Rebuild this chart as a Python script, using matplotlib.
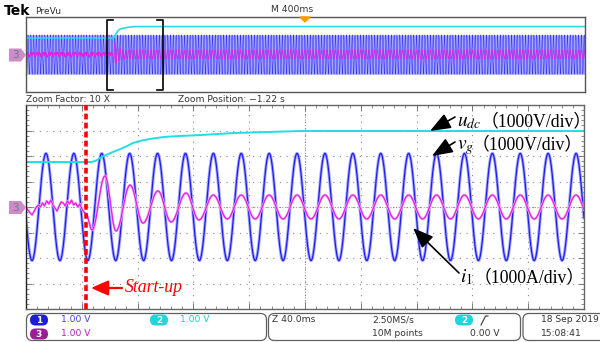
import numpy as np
import matplotlib.pyplot as plt
from matplotlib.patches import FancyBboxPatch, Polygon

plt.rcParams['mathtext.fontset'] = 'stix'

# ---- data (time in ms, amplitude in divisions) ----
startup_t = 43.0          # start-up instant, ms from left edge of zoom window
blue_amp = 2.1            # vg amplitude, div
blue_period = 20.0        # ms (50 Hz)
blue_peak_t = 14.3        # first peak, ms

cyan_t = [0, 43.0, 47.3, 50.9, 53.0, 57.3, 62.4, 67.4, 72.4, 76.7, 81.7, 88.9,
          99.6, 108.2, 124.7, 148.4, 172.8, 196.4, 400]
cyan_v = [1.765, 1.765, 1.765, 1.84, 1.92, 2.04, 2.16, 2.27, 2.39, 2.51, 2.59, 2.67,
          2.75, 2.78, 2.82, 2.90, 2.94, 2.98, 2.98]

# magenta before start-up (noise), evenly spaced over 0..startup_t
mag_pre_v = [-0.04, -0.12, -0.24, -0.31, -0.16, 0, 0.08, 0, 0.16, 0.04, 0.24, 0.12,
             0.27, 0.08, -0.04, -0.16, 0.04, 0.2, 0.16, 0.04, 0.24, 0.12, 0.27, 0.08,
             0.16, 0, 0.12, -0.08, -0.2, -0.27]
# magenta transient extrema after start-up
mag_ext_t = [43.0, 47.3, 56.6, 64.5, 74.6, 83.9, 94.6, 104.0, 114.7, 124.0, 134.3]
mag_ext_v = [-0.27, -0.9, 1.22, -0.94, 0.86, -0.63, 0.63, -0.59, 0.55, -0.51, 0.47]
mag_steady_amp = 0.47

zoom_span = 400.0         # ms shown in zoom window
ov_t0, ov_t1 = -580.0, 3420.0   # overview time range


def blue_wave(t):
    return blue_amp * np.cos(2 * np.pi * (t - blue_peak_t) / blue_period)


def magenta_wave(t):
    out = mag_steady_amp * np.cos(2 * np.pi * (t - blue_peak_t) / blue_period)
    pre_t = np.linspace(0, startup_t, len(mag_pre_v))
    pre = t < startup_t
    out[pre] = np.interp(np.mod(t[pre], startup_t), pre_t, mag_pre_v)
    ts, vs = np.array(mag_ext_t), np.array(mag_ext_v)
    mid = (t >= ts[0]) & (t < ts[-1])
    idx = np.clip(np.searchsorted(ts, t[mid]) - 1, 0, len(ts) - 2)
    s = (t[mid] - ts[idx]) / (ts[idx + 1] - ts[idx])
    out[mid] = vs[idx] + (vs[idx + 1] - vs[idx]) * (1 - np.cos(np.pi * s)) / 2
    return out


c_blue, c_blue_l = '#1e1ef0', '#a6a6ff'
c_cyan = '#22dde6'
c_mag, c_mag_l = '#e21ee2', '#f6b4f6'

fig = plt.figure(figsize=(6, 3.42), dpi=100)
fig.patch.set_facecolor('white')

# ---- overview (PreVu) panel ----
ax0 = fig.add_axes([26 / 600, 1 - 92 / 342, 559 / 600, 75 / 342])
t_ov = np.arange(ov_t0, ov_t1, 0.05)
ax0.fill_between(t_ov, -blue_amp, blue_amp, color=c_blue_l, lw=0)
ax0.plot(t_ov, blue_wave(t_ov), color=c_blue, lw=0.3)
ax0.plot(t_ov, magenta_wave(t_ov), color=c_mag, lw=0.5)
ax0.plot(np.r_[ov_t0, cyan_t, ov_t1], np.r_[cyan_v[0], cyan_v, cyan_v[-1]],
         color=c_cyan, lw=1.2)
# zoom window brackets
for x0, d in [(0, 1), (zoom_span, -1)]:
    ax0.plot([x0 + d * 45, x0, x0, x0 + d * 45], [3.7, 3.7, -3.75, -3.75],
             color='black', lw=1.2)
ax0.set_xlim(ov_t0, ov_t1)
ax0.set_ylim(-4, 4)
ax0.set_xticks([])
ax0.set_yticks([])
for sp in ax0.spines.values():
    sp.set_color('#555555')
    sp.set_linewidth(1)

# ---- main (zoomed) panel ----
ax = fig.add_axes([26 / 600, 1 - 309 / 342, 558 / 600, 204 / 342])
t = np.arange(0, zoom_span, 0.05)
ax.plot(t, blue_wave(t), color=c_blue_l, lw=2.2)
ax.plot(t, blue_wave(t), color=c_blue, lw=0.9)
ax.plot(t, magenta_wave(t), color=c_mag_l, lw=1.8)
ax.plot(t, magenta_wave(t), color=c_mag, lw=0.9)
ax.plot(cyan_t, cyan_v, color=c_cyan, lw=1.4)
ax.axvline(startup_t, color='red', lw=2.6, dashes=(1.6, 0.9), zorder=6)

ax.set_xlim(0, zoom_span)
ax.set_ylim(-4, 4)
ax.set_xticks(np.arange(0, zoom_span + 1, 40))
ax.set_yticks(np.arange(-4, 5, 1))
ax.set_xticks(np.arange(0, zoom_span + 1, 8), minor=True)
ax.set_yticks(np.arange(-4, 4.01, 0.2), minor=True)
ax.tick_params(which='both', direction='in', top=True, right=True,
               labelbottom=False, labelleft=False, color='#777777')
ax.tick_params(which='major', length=4, width=0.7)
ax.tick_params(which='minor', length=2.5, width=0.6)
ax.grid(True, which='major', color='#8a8a8a', lw=0.8, linestyle=(0, (1, 5)))
ax.axhline(0, color='#999999', lw=0.8, linestyle=(0, (1, 1.5)), zorder=0.5)
ax.axvline(zoom_span / 2, color='#999999', lw=0.8, linestyle=(0, (1, 1.5)), zorder=0.5)
for sp in ax.spines.values():
    sp.set_color('#666666')
    sp.set_linewidth(1)
ax.spines['left'].set_color('#222222')

# ---- overlay for scope annotations, in pixel coordinates ----
ov = fig.add_axes([0, 0, 1, 1], zorder=10)
ov.set_xlim(0, 600)
ov.set_ylim(342, 0)
ov.axis('off')

ui = dict(family='DejaVu Sans', fontsize=6.6, color='#333333', va='center')
ov.text(4, 11, 'Tek', fontsize=10, fontweight='bold', color='black', va='center')
ov.text(35, 11, 'PreVu', **ui)
ov.text(271, 10, 'M 400ms', **ui)
ov.add_patch(Polygon([(300, 17), (310, 17), (305, 22)], color='#ff9a00', zorder=5))
ov.text(26, 99, 'Zoom Factor: 10 X', **ui)
ov.text(178, 99, 'Zoom Position: \u22121.22 s', **ui)

# channel 3 markers
for yc in (55, 207.5):
    ov.add_patch(Polygon([(9, yc - 6.5), (21, yc - 6.5), (26, yc), (21, yc + 6.5),
                          (9, yc + 6.5)], fc='#cc8ccc', ec='none'))
    ov.text(15.5, yc + 0.5, '3', fontsize=7.5, color='#777777', ha='center',
            va='center')

# labels with arrows
lab = dict(family=['Liberation Serif', 'Noto Sans CJK SC'], fontsize=12.8,
           color='black', va='baseline')
ov.text(457, 126, '$u_{dc}$', fontsize=14, va='baseline')
ov.text(481, 126, '（1000V/div）', **lab)
ov.text(457, 149, '$v_g$', fontsize=14, va='baseline')
ov.text(472, 149, '（1000V/div）', **lab)
ov.text(460, 282, '$i_1$', fontsize=14, va='baseline')
ov.text(474, 282, '（1000A/div）', **lab)
arw = dict(arrowstyle='-|>,head_length=0.9,head_width=0.35', color='black', lw=1.2,
           mutation_scale=14, shrinkA=0, shrinkB=0)
ov.annotate('', xy=(430, 131), xytext=(455, 117), arrowprops=arw)
ov.annotate('', xy=(432, 156), xytext=(455, 142), arrowprops=arw)
ov.annotate('', xy=(413, 228), xytext=(459, 273), arrowprops=arw)

# start-up marker
ov.annotate('', xy=(91, 288), xytext=(122, 288),
            arrowprops=dict(arrowstyle='-|>,head_length=0.8,head_width=0.35',
                            color='red', lw=1.6, mutation_scale=13,
                            shrinkA=0, shrinkB=0))
ov.text(125, 288, 'Start-up', family='Liberation Serif', style='italic',
        fontsize=12.8, color='red', va='center')

# status bar
for x0, w in [(26.5, 240), (268.5, 252), (523, 90)]:
    ov.add_patch(FancyBboxPatch((x0, 313.5), w, 27, boxstyle='round,pad=0,rounding_size=6',
                                fc='white', ec='#606060', lw=0.9))


def badge(x, y, num, col):
    ov.add_patch(FancyBboxPatch((x - 9, y - 5.5), 18, 11,
                                boxstyle='round,pad=0,rounding_size=5.5',
                                fc=col, ec='none'))
    ov.text(x, y + 0.3, num, fontsize=6.5, fontweight='bold', color='white',
            ha='center', va='center')


st = dict(family='DejaVu Sans', fontsize=6.6, va='center')
badge(39, 320, '1', '#1c1ce0')
ov.text(61, 320, '1.00 V', color='#4040e0', **st)
badge(159, 320, '2', '#22d4dc')
ov.text(180, 320, '1.00 V', color='#22c8d2', **st)
badge(39, 334, '3', '#9c1c9c')
ov.text(61, 334, '1.00 V', color='#b020b0', **st)
ov.text(272, 320, 'Z 40.0ms', color='#333333', **st)
ov.text(372, 320, '2.50MS/s', color='#333333', **st)
ov.text(372, 334, '10M points', color='#333333', **st)
badge(464, 320, '2', '#22d4dc')
ov.plot([481, 485.5, 488], [325, 316, 316], color='#333333', lw=0.8)
ov.text(470, 334, '0.00 V', color='#333333', **st)
ov.text(541, 320, '18 Sep 2019', color='#333333', **st)
ov.text(541, 334, '15:08:41', color='#333333', **st)

fig.savefig('out.png', dpi=100)
